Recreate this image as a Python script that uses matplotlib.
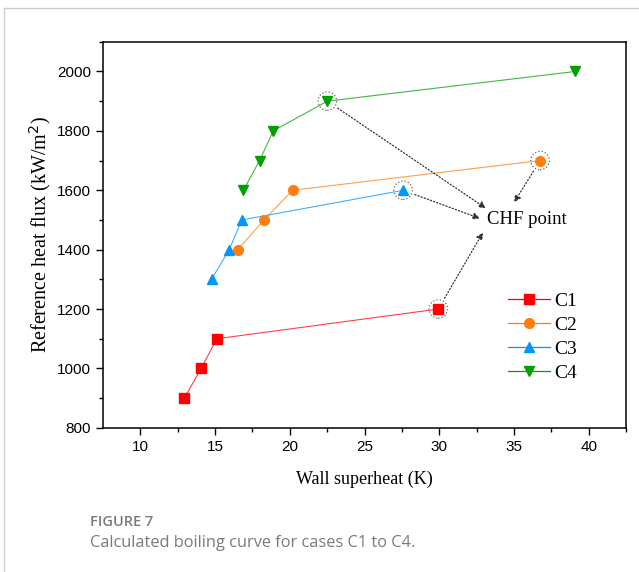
import matplotlib.pyplot as plt
from matplotlib.lines import Line2D
from matplotlib.patches import Ellipse

# Boiling curve data
c1_x = [12.95, 14.07, 15.12, 29.93]
c1_y = [900, 1000, 1100, 1200]
c2_x = [16.51, 18.28, 20.19, 36.74]
c2_y = [1400, 1500, 1600, 1700]
c3_x = [14.77, 15.95, 16.79, 27.58]
c3_y = [1300, 1400, 1500, 1600]
c4_x = [16.9, 17.98, 18.9, 22.51, 39.09]
c4_y = [1600, 1700, 1800, 1900, 2000]

# index of the CHF point on each curve
chf_idx = [3, 3, 3, 3]

xticks = [10, 15, 20, 25, 30, 35, 40]
yticks = [800, 1000, 1200, 1400, 1600, 1800, 2000]

serif = ['Liberation Serif', 'DejaVu Serif']
sans = ['Liberation Sans', 'DejaVu Sans']

fig = plt.figure(figsize=(6.39, 5.72), dpi=100)
ax = fig.add_axes([0.161, 0.252, 0.819, 0.675])

series = [
    (c1_x, c1_y, 'C1', '#ff0000', 's'),
    (c2_x, c2_y, 'C2', '#ff7f0e', 'o'),
    (c3_x, c3_y, 'C3', '#0096ff', '^'),
    (c4_x, c4_y, 'C4', '#00a000', 'v'),
]
for x, y, name, col, mk in series:
    ax.plot(x, y, color=col, lw=0.8, alpha=0.75, zorder=2)
    ax.plot(x, y, ls='none', marker=mk, color=col, ms=7, zorder=3)

# dotted circles around the CHF points
chf = [(s[0][i], s[1][i]) for s, i in zip(series, chf_idx)]
for cx, cy in chf:
    ax.add_patch(Ellipse((cx, cy), 1.25, 62, fill=False, ls=':',
                         ec='#666666', lw=0.9, zorder=4))

ax.text(33.2, 1502, 'CHF point', fontsize=13.5, family=serif, va='center', ha='left')
targets = [(32.92, 1458), (35.0, 1559), (32.72, 1505), (33.12, 1539)]
for (sx, sy), (tx, ty) in zip(chf, targets):
    ax.annotate('', xy=(tx, ty), xytext=(sx, sy),
                arrowprops=dict(arrowstyle='-|>', ls=':', color='#333333', lw=0.9,
                                mutation_scale=10, shrinkA=9, shrinkB=0))

handles = [Line2D([], [], color=col, lw=0.9, marker=mk, ms=7, label=name)
           for x, y, name, col, mk in series]
ax.legend(handles=handles, loc='upper left', bbox_to_anchor=(0.74, 0.397), frameon=False,
          prop={'family': serif, 'size': 14}, handlelength=2.2, labelspacing=0.33,
          handletextpad=0.2)

ax.set_xlim(7.5, 42.5)
ax.set_ylim(800, 2100)
ax.set_xticks(xticks)
ax.set_yticks(yticks)
ax.set_xticks([x + 2.5 for x in [7.5] + xticks], minor=True)
ax.set_yticks([900, 1100, 1300, 1500, 1700, 1900, 2100], minor=True)
ax.tick_params(which='major', direction='out', length=5, width=1, labelsize=11)
ax.tick_params(which='minor', direction='out', length=3, width=1)
for lab in ax.get_xticklabels() + ax.get_yticklabels():
    lab.set_family(sans)
for s in ax.spines.values():
    s.set_linewidth(1.1)

ax.set_xlabel('Wall superheat (K)', family=serif, fontsize=13, labelpad=12)
ax.set_ylabel('Reference heat flux (kW/m$^2$)', family=serif, fontsize=14.5, labelpad=3)

# caption and page border
fig.text(0.141, 0.087, 'FIGURE 7', family=['Open Sans', 'DejaVu Sans'], fontsize=10.5,
         color='#7a7a7a', weight='semibold', va='center')
fig.text(0.141, 0.051, 'Calculated boiling curve for cases C1 to C4.',
         family=['Open Sans', 'DejaVu Sans'], fontsize=11.8, color='#7a7a7a', va='center')
fig.add_artist(Line2D([0.007, 1.0], [0.986, 0.986], color='#cccccc', lw=1.0))
fig.add_artist(Line2D([0.007, 0.007], [0.0, 0.986], color='#cccccc', lw=1.0))

fig.savefig('out.png', dpi=100)
